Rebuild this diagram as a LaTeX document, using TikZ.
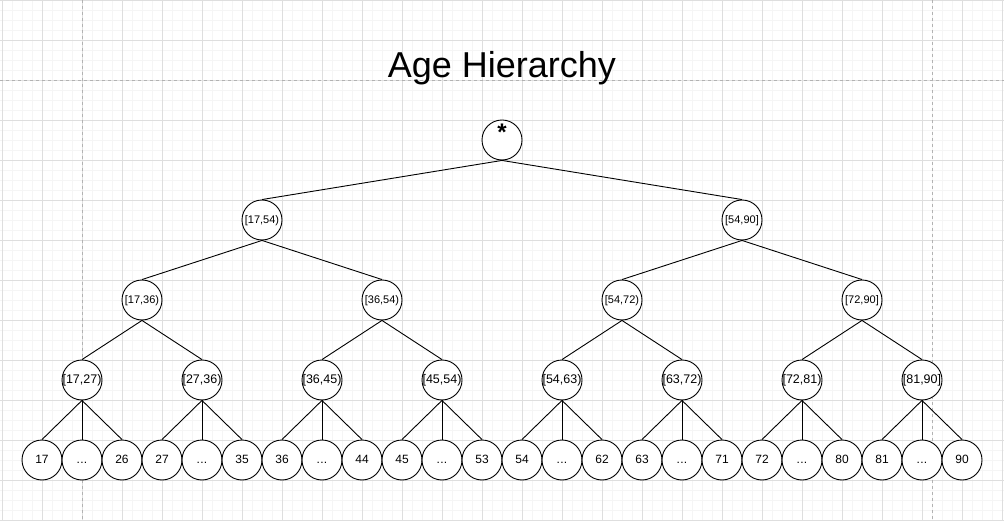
\documentclass[tikz,border=0pt]{standalone}
\usepackage{fontspec}
\setmainfont{Liberation Sans}
\begin{document}
\begin{tikzpicture}[x=1pt,y=-1pt,
  minorgrid/.style={draw=black!4,line width=0.8pt},
  majorgrid/.style={draw=black!13,line width=0.9pt},
  pageline/.style={draw=black!30,line width=0.9pt,dash pattern=on 3pt off 3pt},
  treenode/.style={circle,draw=black,line width=0.9pt,fill=white,minimum size=40pt,inner sep=0pt,text height=0.72em,text depth=0pt},
  upper/.style={treenode,font=\fontsize{11}{13}\selectfont},
  mid/.style={treenode,font=\fontsize{12.5}{14}\selectfont},
  leaf/.style={treenode,font=\fontsize{12}{14}\selectfont},
  edge/.style={draw=black,line width=0.9pt}]
\useasboundingbox (0,0) rectangle (1004,521);
\fill[white] (0,0) rectangle (1004,521);
% grid
\foreach \i in {0,...,100} {\draw[minorgrid] ({2.3+10*\i},0) -- ({2.3+10*\i},521);}
\foreach \i in {0,...,52} {\draw[minorgrid] (0,{0.3+10*\i}) -- (1004,{0.3+10*\i});}
\foreach \i in {0,...,25} {\draw[majorgrid] ({2.3+40*\i},0) -- ({2.3+40*\i},521);}
\foreach \i in {0,...,13} {\draw[majorgrid] (0,{0.3+40*\i}) -- (1004,{0.3+40*\i});}
\draw[pageline] (82.3,0) -- (82.3,521);
\draw[pageline] (932.3,0) -- (932.3,521);
\draw[pageline] (0,80.3) -- (1004,80.3);
% title
\node[anchor=base,font=\fontsize{36}{42}\selectfont,inner sep=0pt] (title) at (502,78) {Age Hierarchy};
% root
\node[treenode,label={[font=\fontsize{24}{28}\selectfont\bfseries,yshift=8pt,name=rootstar]center:*}] (r) at (502,140) {};
% level 1
\node[upper] (a1) at (262,220) {[17,54)};
\node[upper] (a2) at (742,220) {[54,90]};
% level 2
\node[upper] (b1) at (142,300) {[17,36)};
\node[upper] (b2) at (382,300) {[36,54)};
\node[upper] (b3) at (622,300) {[54,72)};
\node[upper] (b4) at (862,300) {[72,90]};
% level 3
\node[mid] (c1) at (82,380) {[17,27)};
\node[mid] (c2) at (202,380) {[27,36)};
\node[mid] (c3) at (322,380) {[36,45)};
\node[mid] (c4) at (442,380) {[45,54)};
\node[mid] (c5) at (562,380) {[54,63)};
\node[mid] (c6) at (682,380) {[63,72)};
\node[mid] (c7) at (802,380) {[72,81)};
\node[mid] (c8) at (922,380) {[81,90]};
% leaves
\foreach \k/\a/\b in {1/17/26,2/27/35,3/36/44,4/45/53,5/54/62,6/63/71,7/72/80,8/81/90} {
  \node[leaf] (l\k a) at ({42+120*(\k-1)},460) {\a};
  \node[leaf] (l\k b) at ({82+120*(\k-1)},460) {.\kern0.3pt.\kern0.3pt.};
  \node[leaf] (l\k c) at ({122+120*(\k-1)},460) {\b};
  \draw[edge] (c\k.south) -- (l\k a.north);
  \draw[edge] (c\k.south) -- (l\k b.north);
  \draw[edge] (c\k.south) -- (l\k c.north);
}
% edges
\draw[edge] (r.south) -- (a1.north);
\draw[edge] (r.south) -- (a2.north);
\draw[edge] (a1.south) -- (b1.north);
\draw[edge] (a1.south) -- (b2.north);
\draw[edge] (a2.south) -- (b3.north);
\draw[edge] (a2.south) -- (b4.north);
\draw[edge] (b1.south) -- (c1.north);
\draw[edge] (b1.south) -- (c2.north);
\draw[edge] (b2.south) -- (c3.north);
\draw[edge] (b2.south) -- (c4.north);
\draw[edge] (b3.south) -- (c5.north);
\draw[edge] (b3.south) -- (c6.north);
\draw[edge] (b4.south) -- (c7.north);
\draw[edge] (b4.south) -- (c8.north);
\end{tikzpicture}
\end{document}
